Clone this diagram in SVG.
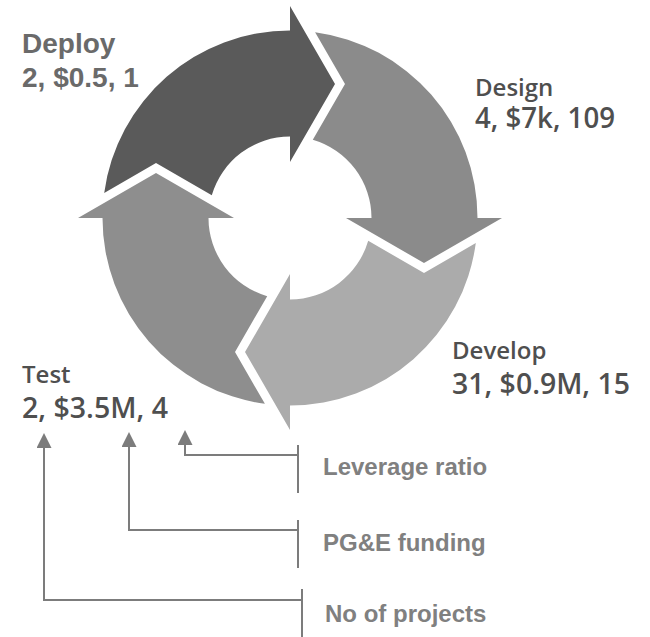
<svg xmlns="http://www.w3.org/2000/svg" xmlns:xlink="http://www.w3.org/1999/xlink" width="650" height="637" viewBox="0 0 650 637">
<style>
.stage{font-family:"Open Sans","Noto Sans","Liberation Sans",sans-serif;font-weight:600;fill:#4f4f4f}
.s1{font-size:24px}
.s2{font-size:28px}
.dep{font-family:"Liberation Sans",Arial,sans-serif;font-weight:bold;font-size:28px;fill:#6a6a6a}
.leg{font-family:"Liberation Sans",Arial,sans-serif;font-weight:bold;font-size:24px;fill:#808080}
.conn{fill:none;stroke:#7c7c7c;stroke-width:2}
</style>
<defs>
<path id="arc" d="M25.1,-185.8 A187.5,187.5 0 0 1 187.5,0 L212,0 L134,45 L56,0 L81.5,0 A81.5,81.5 0 0 0 22.8,-78.2 L55,-134 Z"/>
<marker id="ah" viewBox="0 0 15 15" refX="0" refY="7.5" markerWidth="15" markerHeight="15" markerUnits="userSpaceOnUse" orient="auto">
<path d="M0,0 L15,7.5 L0,15 Z" fill="#7c7c7c"/>
</marker>
</defs>
<g id="deploy">
<use xlink:href="#arc" href="#arc" transform="translate(290,218) rotate(-90)" fill="#5a5a5a"/>
<text class="dep" x="22" y="53">Deploy</text>
<text class="dep" x="22" y="87">2, $0.5, 1</text>
</g>
<g id="design">
<use xlink:href="#arc" href="#arc" transform="translate(290,218)" fill="#8b8b8b"/>
<text class="stage s1" x="475" y="96">Design</text>
<text class="stage s2" x="475" y="128" textLength="140" lengthAdjust="spacingAndGlyphs">4, $7k, 109</text>
</g>
<g id="develop">
<use xlink:href="#arc" href="#arc" transform="translate(290,218) rotate(90)" fill="#ababab"/>
<text class="stage s1" x="452" y="359">Develop</text>
<text class="stage s2" x="452" y="394" textLength="178" lengthAdjust="spacingAndGlyphs">31, $0.9M, 15</text>
</g>
<g id="test">
<use xlink:href="#arc" href="#arc" transform="translate(290,218) rotate(180)" fill="#8e8e8e"/>
<text class="stage s1" x="22" y="383">Test</text>
<text class="stage s2" x="22" y="418" textLength="146" lengthAdjust="spacingAndGlyphs">2, $3.5M, 4</text>
</g>
<g id="leverage">
<line class="conn" x1="298" y1="445" x2="298" y2="493"/>
<text class="leg" x="323" y="475">Leverage ratio</text>
</g>
<g id="funding">
<line class="conn" x1="298" y1="520" x2="298" y2="568"/>
<text class="leg" x="323" y="551">PG&amp;E funding</text>
</g>
<g id="projects">
<line class="conn" x1="302" y1="589" x2="302" y2="637"/>
<text class="leg" x="325" y="622">No of projects</text>
</g>
<g id="connectors">
<polyline class="conn" points="298,455 185,455 185,445" marker-end="url(#ah)"/>
<polyline class="conn" points="298,530 129,530 129,447" marker-end="url(#ah)"/>
<polyline class="conn" points="302,600 44,600 44,448" marker-end="url(#ah)"/>
</g>
</svg>
